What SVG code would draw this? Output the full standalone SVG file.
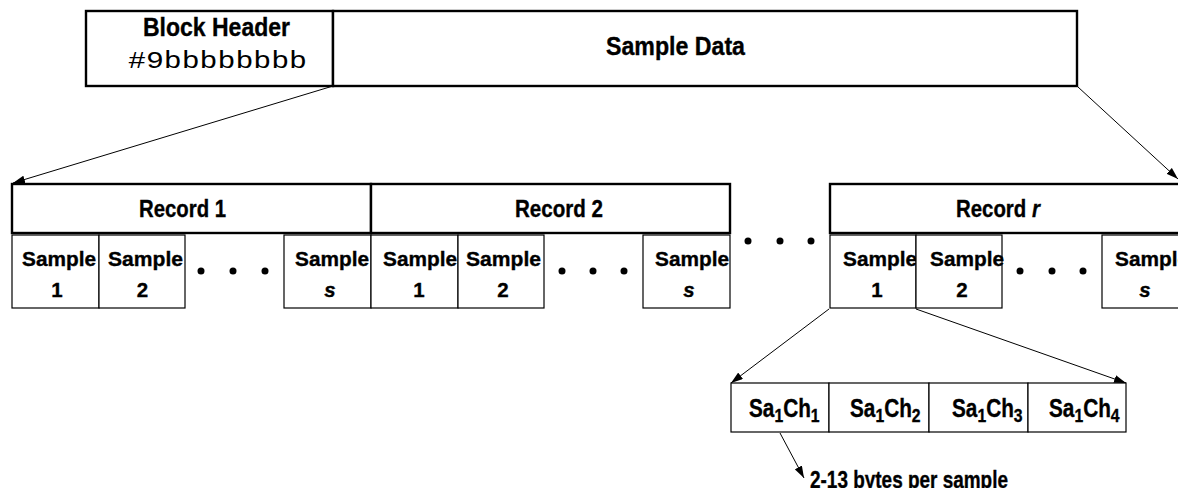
<svg xmlns="http://www.w3.org/2000/svg" width="1178" height="488" viewBox="0 0 1178 488">
<defs>
<style>
.t{font-family:"Liberation Sans",Arial,sans-serif;font-weight:bold;fill:#000;stroke:#000;stroke-width:0.35}
.it{font-style:italic}
.mono{font-family:"Liberation Mono","Courier New",monospace;fill:#000;font-size:24px}
.thick{fill:#fff;stroke:#000;stroke-width:2.4}
.thin{fill:#fff;stroke:#000;stroke-width:1.2}
.ln{fill:none;stroke:#000;stroke-width:1}
.dot{fill:#000}
.dg{text-anchor:middle}
</style>
<marker id="ah" viewBox="0 0 12 8" refX="12" refY="4" markerWidth="12" markerHeight="8" markerUnits="userSpaceOnUse" orient="auto">
<path d="M0,0 L12,4 L0,8 Z" fill="#000"/>
</marker>
</defs>

<g id="connectors">
<line class="ln" x1="333" y1="86" x2="13" y2="183" marker-end="url(#ah)"/>
<line class="ln" x1="1078" y1="87" x2="1178" y2="179" marker-end="url(#ah)"/>
<line class="ln" x1="829" y1="309" x2="731" y2="383" marker-end="url(#ah)"/>
<line class="ln" x1="916" y1="309" x2="1126" y2="383" marker-end="url(#ah)"/>
<line class="ln" x1="780" y1="433" x2="804" y2="478" marker-end="url(#ah)"/>
</g>

<g id="block-header">
<rect class="thick" x="86" y="11" width="247" height="75"/>
<text class="t" x="143" y="36" font-size="26.5" textLength="147" lengthAdjust="spacingAndGlyphs">Block Header</text>
<text class="mono" x="128" y="68" textLength="179" lengthAdjust="spacingAndGlyphs">#9bbbbbbbb</text>
</g>
<g id="sample-data">
<rect class="thick" x="333" y="11" width="744" height="75"/>
<text class="t" x="606" y="55" font-size="25" textLength="139" lengthAdjust="spacingAndGlyphs">Sample Data</text>
</g>

<g id="record-1">
<rect class="thick" x="12" y="184" width="359" height="49"/>
<text class="t" x="139" y="217" font-size="24" textLength="87" lengthAdjust="spacingAndGlyphs">Record 1</text>
</g>
<g id="record-2">
<rect class="thick" x="371" y="184" width="359" height="49"/>
<text class="t" x="515" y="217" font-size="24" textLength="88" lengthAdjust="spacingAndGlyphs">Record 2</text>
</g>
<g id="record-r">
<rect class="thick" x="830" y="184" width="400" height="49"/>
<text class="t" transform="translate(956,217) scale(0.85,1)" x="0" y="0" font-size="24">Record <tspan class="it">r</tspan></text>
</g>

<g id="r1-s1"><rect class="thin" x="12" y="235" width="87" height="73"/><text class="t" x="22" y="266" font-size="20.5" textLength="74" lengthAdjust="spacingAndGlyphs">Sample</text><text class="t dg" x="57" y="297" font-size="20.5">1</text></g>
<g id="r1-s2"><rect class="thin" x="99" y="235" width="86" height="73"/><text class="t" x="108" y="266" font-size="20.5" textLength="75" lengthAdjust="spacingAndGlyphs">Sample</text><text class="t dg" x="142.5" y="297" font-size="20.5">2</text></g>
<g id="r1-dots"><circle class="dot" cx="201" cy="271" r="3.5"/><circle class="dot" cx="233" cy="271" r="3.5"/><circle class="dot" cx="265" cy="271" r="3.5"/></g>
<g id="r1-ss"><rect class="thin" x="284" y="235" width="87" height="73"/><text class="t" x="295" y="266" font-size="20.5" textLength="74" lengthAdjust="spacingAndGlyphs">Sample</text><text class="t dg it" x="330" y="297" font-size="20.5">s</text></g>

<g id="r2-s1"><rect class="thin" x="371" y="235" width="87" height="73"/><text class="t" x="383" y="266" font-size="20.5" textLength="74" lengthAdjust="spacingAndGlyphs">Sample</text><text class="t dg" x="419" y="297" font-size="20.5">1</text></g>
<g id="r2-s2"><rect class="thin" x="458" y="235" width="86" height="73"/><text class="t" x="466" y="266" font-size="20.5" textLength="75" lengthAdjust="spacingAndGlyphs">Sample</text><text class="t dg" x="503" y="297" font-size="20.5">2</text></g>
<g id="r2-dots"><circle class="dot" cx="562" cy="271" r="3.5"/><circle class="dot" cx="593" cy="271" r="3.5"/><circle class="dot" cx="624" cy="271" r="3.5"/></g>
<g id="r2-ss"><rect class="thin" x="643" y="235" width="87" height="73"/><text class="t" x="655" y="266" font-size="20.5" textLength="74" lengthAdjust="spacingAndGlyphs">Sample</text><text class="t dg it" x="689" y="297" font-size="20.5">s</text></g>

<g id="rec-dots"><circle class="dot" cx="748" cy="241" r="3.5"/><circle class="dot" cx="780" cy="241" r="3.5"/><circle class="dot" cx="811" cy="241" r="3.5"/></g>

<g id="rr-s1"><rect class="thin" x="830" y="235" width="86" height="73"/><text class="t" x="843" y="266" font-size="20.5" textLength="74" lengthAdjust="spacingAndGlyphs">Sample</text><text class="t dg" x="877" y="297" font-size="20.5">1</text></g>
<g id="rr-s2"><rect class="thin" x="916" y="235" width="86" height="73"/><text class="t" x="930" y="266" font-size="20.5" textLength="74" lengthAdjust="spacingAndGlyphs">Sample</text><text class="t dg" x="962" y="297" font-size="20.5">2</text></g>
<g id="rr-dots"><circle class="dot" cx="1020" cy="271" r="3.5"/><circle class="dot" cx="1052" cy="271" r="3.5"/><circle class="dot" cx="1083" cy="271" r="3.5"/></g>
<g id="rr-ss"><rect class="thin" x="1102" y="235" width="100" height="73"/><text class="t" x="1115" y="266" font-size="20.5" textLength="74" lengthAdjust="spacingAndGlyphs">Sample</text><text class="t dg it" x="1145" y="297" font-size="20.5">s</text></g>

<g id="channels">
<rect class="thin" x="731" y="383" width="98" height="49"/>
<rect class="thin" x="829" y="383" width="100" height="49"/>
<rect class="thin" x="929" y="383" width="99" height="49"/>
<rect class="thin" x="1028" y="383" width="98" height="49"/>
<text class="t" transform="translate(749,417) scale(0.83,1)" x="0" y="0" font-size="25">Sa<tspan font-size="19" dy="5">1</tspan><tspan dy="-5">Ch</tspan><tspan font-size="19" dy="5">1</tspan></text>
<text class="t" transform="translate(850,417) scale(0.83,1)" x="0" y="0" font-size="25">Sa<tspan font-size="19" dy="5">1</tspan><tspan dy="-5">Ch</tspan><tspan font-size="19" dy="5">2</tspan></text>
<text class="t" transform="translate(952,417) scale(0.83,1)" x="0" y="0" font-size="25">Sa<tspan font-size="19" dy="5">1</tspan><tspan dy="-5">Ch</tspan><tspan font-size="19" dy="5">3</tspan></text>
<text class="t" transform="translate(1049,417) scale(0.83,1)" x="0" y="0" font-size="25">Sa<tspan font-size="19" dy="5">1</tspan><tspan dy="-5">Ch</tspan><tspan font-size="19" dy="5">4</tspan></text>
</g>

<g id="bytes-label">
<text class="t" x="810" y="488" font-size="24" textLength="198" lengthAdjust="spacingAndGlyphs">2-13 bytes per sample</text>
</g>
</svg>
